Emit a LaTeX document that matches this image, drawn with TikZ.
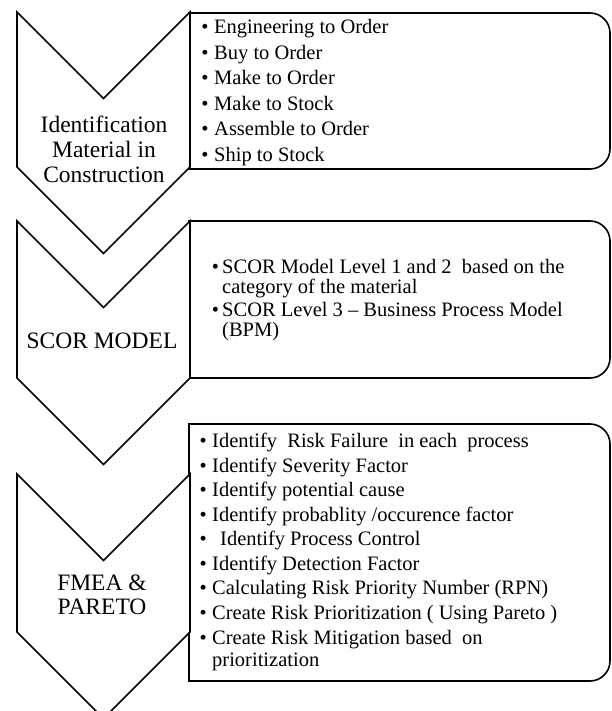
\documentclass[tikz,border=0pt]{standalone}
\usepackage{fontspec}
\setmainfont{Liberation Serif}
\tikzset{
  shapeline/.style={draw=black, line width=1.6pt, fill=white, line join=miter},
  chevtext/.style={font=\fontsize{23.5}{25}\selectfont, inner sep=0pt, anchor=base},
  itemtext/.style={font=\fontsize{20.5}{22}\selectfont, inner sep=0pt, anchor=base west},
  bulletdot/.style={font=\fontsize{20.5}{22}\selectfont, inner sep=0pt, anchor=base},
}
\newcommand\myitem[5]{\node[bulletdot] (#1b) at (#2,#4) {•};\node[itemtext] (#1) at (#3,#4) {#5};}
\newcommand\mywrap[4]{\node[itemtext] (#1) at (#2,#3) {#4};}
\begin{document}
\begin{tikzpicture}[x=1pt,y=-1pt]
\useasboundingbox (0,0) rectangle (611,711);
\clip (0,0) rectangle (611,711);
\fill[white] (0,0) rectangle (611,711);

% right boxes with rounded right corners
\draw[shapeline] (189,13) -- (590,13) .. controls (601,13) and (610,22) .. (610,33)
  -- (610,149) .. controls (610,160) and (601,169) .. (590,169) -- (189,169) -- cycle;
\draw[shapeline] (189,221) -- (590,221) .. controls (601,221) and (610,230) .. (610,241)
  -- (610,358) .. controls (610,369) and (601,378) .. (590,378) -- (189,378) -- cycle;
\draw[shapeline] (189,424) -- (590,424) .. controls (601,424) and (610,433) .. (610,444)
  -- (610,661) .. controls (610,672) and (601,681) .. (590,681) -- (189,681) -- cycle;

% chevrons
\draw[shapeline] (17,12) -- (103.5,98.5) -- (190,12) -- (190,167) -- (103.5,253.5) -- (17,167) -- cycle;
\draw[shapeline] (17,221) -- (103.5,307.5) -- (190,221) -- (190,378) -- (103.5,464.5) -- (17,378) -- cycle;
\draw[shapeline] (17,474) -- (103.5,560.5) -- (190,474) -- (190,632) -- (103.5,718.5) -- (17,632) -- cycle;

% chevron labels
\node[chevtext] (c1a) at (104,133) {Identification};
\node[chevtext] (c1b) at (104,158) {Material in};
\node[chevtext] (c1c) at (104,183) {Construction};
\node[chevtext] (c2a) at (102,348) {SCOR MODEL};
\node[chevtext] (c3a) at (102,590) {FMEA \&};
\node[chevtext] (c3b) at (102,614) {PARETO};

% box 1
\myitem{a1}{205}{214}{34}{Engineering to Order}
\myitem{a2}{205}{214}{59.5}{Buy to Order}
\myitem{a3}{205}{214}{85}{Make to Order}
\myitem{a4}{205}{214}{110.5}{Make to Stock}
\myitem{a5}{205}{214}{136}{Assemble to Order}
\myitem{a6}{205}{214}{161.5}{Ship to Stock}

% box 2
\myitem{s1}{215.5}{222}{273}{SCOR Model Level 1 and 2\ \ based on the}
\mywrap{s1w}{222}{293}{category of the material}
\myitem{s2}{215.5}{222}{316}{SCOR Level 3 -- Business Process Model}
\mywrap{s2w}{222}{336}{(BPM)}

% box 3
\myitem{f1}{203.3}{212}{447.5}{Identify\ \ Risk Failure\ \ in each\ \ process}
\myitem{f2}{203.3}{212}{472.1}{Identify Severity Factor}
\myitem{f3}{203.3}{212}{496.6}{Identify potential cause}
\myitem{f4}{203.3}{212}{521.2}{Identify probablity /occurence factor}
\myitem{f5}{203.3}{220}{545.7}{Identify Process Control}
\myitem{f6}{203.3}{212}{570.3}{Identify Detection Factor}
\myitem{f7}{203.3}{212}{594.9}{Calculating Risk Priority Number (RPN)}
\myitem{f8}{203.3}{212}{619.4}{Create Risk Prioritization ( Using Pareto )}
\myitem{f9}{203.3}{212}{644}{Create Risk Mitigation based\ \ on}
\mywrap{f9w}{212}{666}{prioritization}
\end{tikzpicture}
\end{document}
